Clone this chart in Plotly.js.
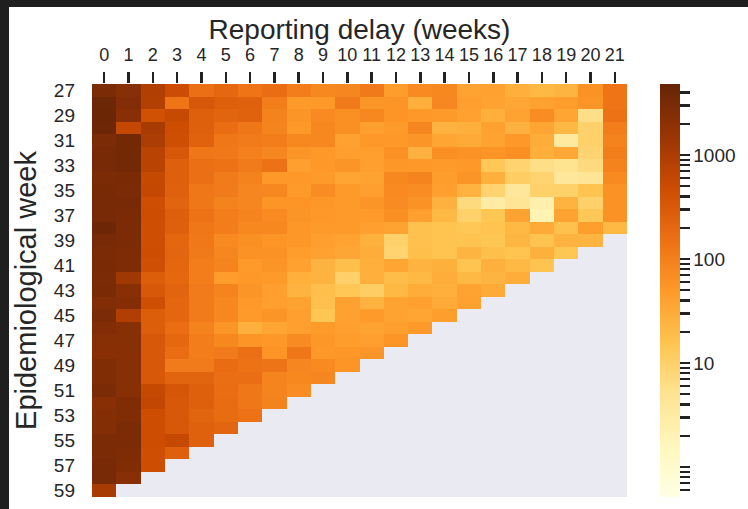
<!DOCTYPE html>
<html>
<head>
<meta charset="utf-8">
<script src="https://cdn.plot.ly/plotly-3.0.1.min.js"></script>
<style>
  html, body { margin: 0; padding: 0; background: #1f1f1f; width: 748px; height: 509px; overflow: hidden; }
  #chart { position: absolute; left: 9px; top: 7px; width: 739px; height: 502px; background: #ffffff; }
</style>
</head>
<body>
<div id="chart"></div>
<script>
// Reporting delay in weeks (columns)
const delays = [0,1,2,3,4,5,6,7,8,9,10,11,12,13,14,15,16,17,18,19,20,21];
// Epidemiological week (rows)
const weeks = [27,28,29,30,31,32,33,34,35,36,37,38,39,40,41,42,43,44,45,46,47,48,49,50,51,52,53,54,55,56,57,58,59];
// Y tick labels (every other week)
const weekTicks = [27,29,31,33,35,37,39,41,43,45,47,49,51,53,55,57,59];
// Colour bar labelled ticks and unlabelled minor ticks
const cbMajor = [10, 100, 1000];
const cbMinor = [0.6,0.7,0.8,0.9,1,2,3,4,5,6,7,8,9,20,30,40,50,60,70,80,90,200,300,400,500,600,700,800,900,2000,3000,4000];
// Colour range of the (log) scale
const cMin = 0.515;
const cMax = 4820;

// Case counts, one row per week, one value per delay (triangle)
const counts = [
  [3000,2300,900,500,160,200,140,170,110,80,85,120,45,75,80,38,40,28,22,24,60,140],
  [4200,2600,850,140,350,270,250,110,48,50,115,55,55,28,85,42,38,34,40,45,55,140],
  [4300,2200,420,550,260,230,240,95,55,75,65,80,58,50,48,40,28,38,70,36,6,150],
  [4000,580,1100,480,260,170,130,90,50,80,65,42,48,85,25,27,40,26,36,22,10,110],
  [3000,3500,1000,450,240,130,115,110,80,80,40,50,50,55,36,32,38,50,30,3.5,10,95],
  [3300,3500,750,330,130,125,100,85,55,50,42,44,62,26,65,60,58,65,28,34,9,105],
  [3300,3600,750,260,160,150,115,150,42,50,55,42,52,50,48,50,14,9,6,5,7,95],
  [3000,3100,560,260,160,115,95,50,50,48,36,38,80,90,46,55,27,11,9,4,4.5,75],
  [3200,3000,580,250,130,115,85,80,48,70,48,42,75,70,42,25,9,4,10,10,16,60],
  [3300,3300,450,230,130,95,85,58,58,52,48,55,72,60,26,7,3,4.5,2.5,25,10,60],
  [3300,3100,480,270,150,110,90,75,55,50,48,48,65,42,22,10,15,38,2,38,14,60],
  [4000,3000,460,260,130,110,80,80,52,48,48,42,38,17,16,14,16,22,32,17,44,22],
  [3300,3000,450,210,125,75,65,58,52,42,38,27,10,17,16,16,15,23,16,25,24],
  [3000,2800,470,220,120,85,60,60,45,40,35,30,9,18,16,24,18,16,27,15],
  [3100,2900,440,210,110,90,48,55,40,25,18,28,36,25,27,16,27,22,16],
  [3000,1300,280,200,110,45,50,48,28,25,10,28,19,22,30,22,24,30],
  [3100,2200,330,230,115,90,55,42,25,18,14,11,22,30,28,38,32],
  [2600,2400,450,210,115,80,50,42,38,17,40,25,38,42,32,40],
  [3000,900,280,210,115,80,48,55,42,15,40,48,38,36,44],
  [2600,2300,280,170,95,55,28,36,42,48,42,38,42,48],
  [2300,2300,330,200,110,80,58,52,72,52,45,42,58],
  [2200,2200,330,170,110,115,160,58,130,50,52,56],
  [2700,2300,330,115,115,175,150,135,85,75,58],
  [2700,2300,330,230,230,165,165,90,80,85],
  [3000,2300,560,360,260,170,130,90,70],
  [2200,2700,620,330,260,180,130,95],
  [2500,2700,480,330,230,180,150],
  [2500,3000,480,330,250,220],
  [3000,3000,480,560,250],
  [3000,2800,460,260],
  [3300,2700,470],
  [3300,2200],
  [1100]
];

// matplotlib YlOrBr
const ylOrBr = [
  [0.000, '#ffffe5'], [0.125, '#fff7bc'], [0.250, '#fee391'], [0.375, '#fec44f'],
  [0.500, '#fe9929'], [0.625, '#ec7014'], [0.750, '#cc4c02'], [0.875, '#993404'],
  [1.000, '#662506']
];

const zLog = counts.map(row => delays.map((d, j) => j < row.length ? Math.log10(row[j]) : null));
const zText = counts.map(row => delays.map((d, j) => j < row.length ? String(row[j]) : ''));

const cbVals = cbMinor.concat(cbMajor).sort((a, b) => a - b);
const cbTickVals = cbVals.map(v => Math.log10(v));
const cbTickText = cbVals.map(v => cbMajor.includes(v) ? String(v) : '');

const FONT = 'Liberation Sans, Arial, Helvetica, sans-serif';
const TXT = '#262626';

const trace = {
  type: 'heatmap',
  x: delays,
  y: weeks,
  z: zLog,
  text: zText,
  hovertemplate: 'week %{y}, delay %{x}: %{text}<extra></extra>',
  colorscale: ylOrBr,
  zmin: Math.log10(cMin),
  zmax: Math.log10(cMax),
  xgap: 0, ygap: 0,
  colorbar: {
    x: 1.0613, xanchor: 'left', xpad: 0,
    y: 0.5, yanchor: 'middle', ypad: 0,
    len: 1, lenmode: 'fraction',
    thickness: 20,
    outlinewidth: 0,
    ticks: 'outside', ticklen: 10, tickwidth: 2.2, tickcolor: '#222',
    tickmode: 'array', tickvals: cbTickVals, ticktext: cbTickText,
    tickfont: { family: FONT, size: 19, color: TXT },
    ticklabelstandoff: 8
  }
};

const layout = {
  width: 739, height: 502,
  margin: { l: 83, r: 118, t: 77, b: 12, pad: 0 },
  paper_bgcolor: '#ffffff',
  plot_bgcolor: '#eaeaf2',
  font: { family: FONT, color: TXT },
  title: {
    text: 'Reporting delay (weeks)',
    font: { family: FONT, size: 28, color: TXT },
    xref: 'paper', x: 0.5, xanchor: 'center',
    yref: 'container', y: 1 - 22 / 502, yanchor: 'middle'
  },
  xaxis: {
    side: 'top',
    range: [-0.5, 21.5],
    tickmode: 'array', tickvals: delays, ticktext: delays.map(String),
    ticks: 'outside', ticklen: 11, tickwidth: 2.5, tickcolor: '#222',
    tickfont: { family: FONT, size: 18, color: TXT },
    ticklabelstandoff: 4,
    showgrid: false, zeroline: false, showline: false,
    automargin: false, fixedrange: true
  },
  yaxis: {
    range: [59.5, 26.5],
    tickmode: 'array', tickvals: weekTicks, ticktext: weekTicks.map(String),
    ticks: '',
    tickfont: { family: FONT, size: 19, color: TXT },
    ticklabelstandoff: 16,
    showgrid: false, zeroline: false, showline: false,
    title: { text: 'Epidemiological week', font: { family: FONT, size: 29, color: TXT }, standoff: 8 },
    automargin: false, fixedrange: true
  }
};

Plotly.newPlot('chart', [trace], layout, { displayModeBar: false, staticPlot: true });
</script>
</body>
</html>
